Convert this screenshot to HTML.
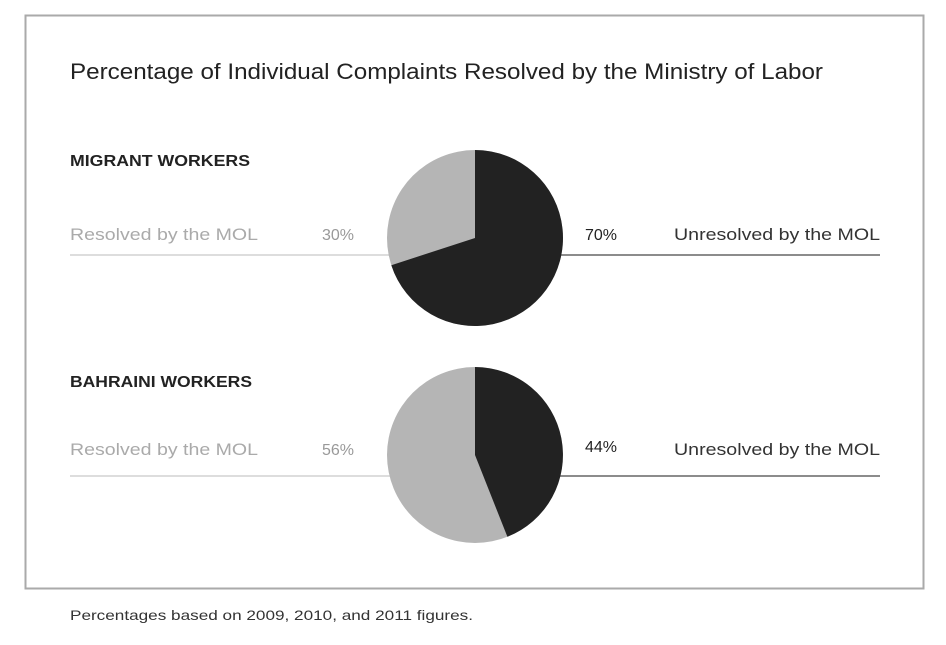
<!DOCTYPE html>
<html><head><meta charset="utf-8"><style>
body{margin:0;background:#fff;width:946px;height:645px;overflow:hidden;font-family:"Liberation Sans",sans-serif}
</style></head><body>
<svg width="946" height="645" xmlns="http://www.w3.org/2000/svg" style="display:block">
<rect x="25.5" y="15.5" width="898" height="573" fill="#fff" stroke="#aaa" stroke-width="2"/>
<text x="70" y="79" font-size="22" fill="#222" textLength="753" lengthAdjust="spacingAndGlyphs">Percentage of Individual Complaints Resolved by the Ministry of Labor</text>
<text x="70" y="166" font-size="16" font-weight="bold" fill="#222" textLength="180" lengthAdjust="spacingAndGlyphs">MIGRANT WORKERS</text>
<text x="70" y="240" font-size="17" fill="#aaa" textLength="188" lengthAdjust="spacingAndGlyphs">Resolved by the MOL</text>
<text x="322" y="240" font-size="16" fill="#999">30%</text>
<text x="585" y="240" font-size="16" fill="#222">70%</text>
<text x="674" y="240" font-size="17" fill="#333" textLength="206" lengthAdjust="spacingAndGlyphs">Unresolved by the MOL</text>
<line x1="70" y1="255" x2="390" y2="255" stroke="#ddd" stroke-width="2"/>
<line x1="560" y1="255" x2="880" y2="255" stroke="#666" stroke-width="1.5"/>
<circle cx="475" cy="238" r="88" fill="#b5b5b5"/>
<path d="M475 238 L475 150 A88 88 0 1 1 391.3 265.2 Z" fill="#222"/>
<text x="70" y="387" font-size="16" font-weight="bold" fill="#222" textLength="182" lengthAdjust="spacingAndGlyphs">BAHRAINI WORKERS</text>
<text x="70" y="455" font-size="17" fill="#aaa" textLength="188" lengthAdjust="spacingAndGlyphs">Resolved by the MOL</text>
<text x="322" y="455" font-size="16" fill="#999">56%</text>
<text x="585" y="452" font-size="16" fill="#222">44%</text>
<text x="674" y="455" font-size="17" fill="#333" textLength="206" lengthAdjust="spacingAndGlyphs">Unresolved by the MOL</text>
<line x1="70" y1="476" x2="390" y2="476" stroke="#ddd" stroke-width="2"/>
<line x1="560" y1="476" x2="880" y2="476" stroke="#666" stroke-width="1.5"/>
<circle cx="475" cy="455" r="88" fill="#b5b5b5"/>
<path d="M475 455 L475 367 A88 88 0 0 1 507.4 536.8 Z" fill="#222"/>
<text x="70" y="620" font-size="14" fill="#333" textLength="403" lengthAdjust="spacingAndGlyphs">Percentages based on 2009, 2010, and 2011 figures.</text>
</svg>
</body></html>
